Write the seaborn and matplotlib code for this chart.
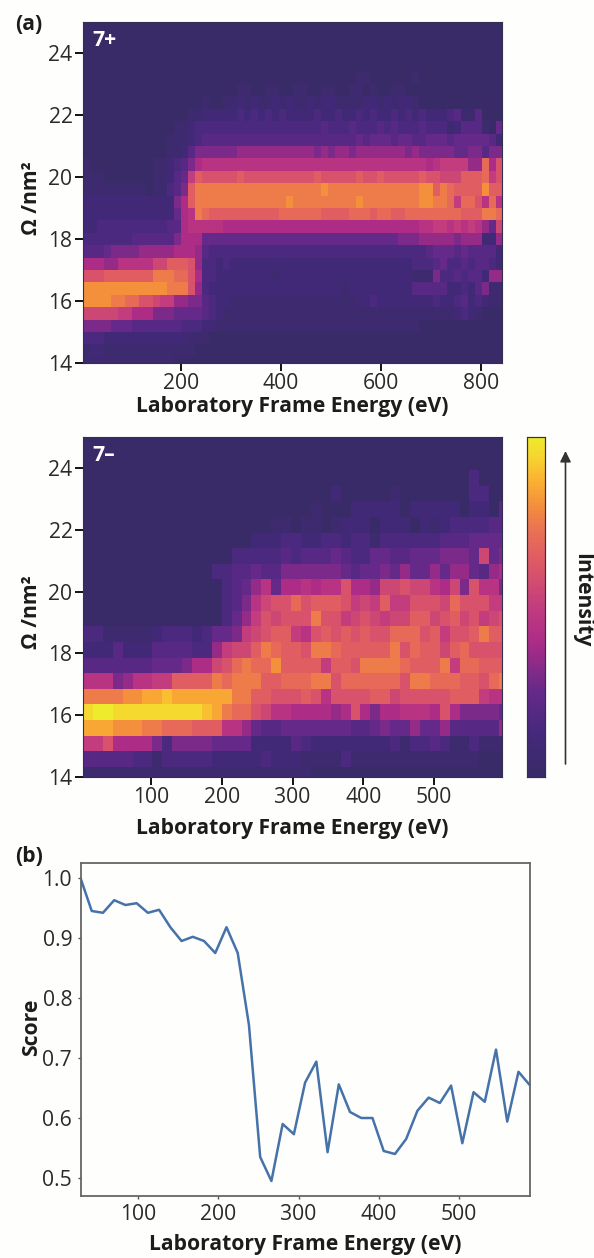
import numpy as np
import seaborn as sns
import matplotlib
matplotlib.use("Agg")
import matplotlib.pyplot as plt
from matplotlib.colors import LinearSegmentedColormap
from matplotlib.patches import FancyArrowPatch

sns.set_theme(style="white")
plt.rcParams['font.family'] = ['Open Sans', 'DejaVu Sans']

W, H = 594, 1258
FS = 15.2

# Intensity levels: one row per drift bin, bottom row first.
# Each character is a level from 0 (base 36, 0..9, a..k), k being the top of the scale.
levels_7plus = [
 "1111111111 1110000000 0000000000 0000000000 0000000000 0000000000",
 "1221111111 1111110000 0000000000 0000000000 0000000000 0000000000",
 "3332222222 2222211100 0000000000 0000000000 0000000000 0000000000",
 "6666555444 4444333221 1111111111 1111111111 1111111100 0000000000",
 "bbbbbaa888 6665555432 1111111111 1111111111 1111111111 1112321000",
 "ggggffeecc baa7766432 2111111111 1111111112 2322222222 3223423211",
 "gggggggggg ggfffc7322 2222222222 2222222122 2222222444 4422324611",
 "cccddddddd fffeec8332 2222222122 2222222222 2222222111 6334344277",
 "8887799999 bbdddc7332 3222222222 2222222222 2222222333 4533434432",
 "4445666677 7778887433 3333333333 3333333333 3333333334 5554544442",
 "3333333444 4446888555 5555555555 5555555555 5555566677 7776777227",
 "2233333333 3344899999 8888888888 8888888888 8888888899 aa9a9a975b",
 "2222222222 222589fedd ddddddddee eeeeddddee edeeddeeee eeeedddffe",
 "2222222222 22268dffff fffffffffg fffffffffg ffffffffgg ffeaeec9e9",
 "1111111110 11346dffff ffffffffff ffffgfffff ffffffffgg dfeddddgdd",
 "1110000000 11245adccc ccdccccccc cccdcccccd ccdcccccdc cbbbdddeac",
 "1000000000 1123468999 9999999999 9999999999 9999999998 9aaaa77e8c",
 "0000000000 0011246666 6677777777 7776767767 7777776766 6665566466",
 "0000000000 0011123444 4444444444 4444444445 4555455445 5545555542",
 "0000000000 0001123333 3333333333 3333433343 3343433343 3312444105",
 "0000000000 0000011222 2232323232 2223223223 2322323232 2234114000",
 "0000000000 0000000100 1121211212 1121221111 2212122100 0000000000",
 "0000000000 0000000000 0011001100 1100110011 0100110000 0000000000",
 "0000000000 0000000000 0000000000 0000000001 1000000100 0000000000",
 "0000000000 0000000000 0000000000 0000000000 0000000000 0000000000",
 "0000000000 0000000000 0000000000 0000000000 0000000000 0000000000",
 "0000000000 0000000000 0000000000 0000000000 0000000000 0000000000",
 "0000000000 0000000000 0000000000 0000000000 0000000000 0000000000",
]
levels_7minus = [
 "1111111111 1111111111 1110000000 0000000000 000",
 "4444433133 3332222232 2211113111 1111111111 000",
 "aac8888636 6665555222 2432222222 2313343113 111",
 "hhhgggffee eddd997544 5555555445 6557557444 447",
 "jkkjjjjjjj jjihfeecb9 9888878c86 889998c866 665",
 "ffffgghhih hhhhhffddc ccdc9ccccd dbcccccddd a99",
 "9996799aad dddfefffdd eeeffceeee eecffeeedd cef",
 "4444444555 688bcefeeg ddddaddcff ffedddfaee ddd",
 "2224222444 4337abbdfe ddcffedddd dfceddbdec ccc",
 "3311111233 323556abcd da9cdcdcdc ceeecdaccd fdd",
 "0000000000 0000357acb cccfccabcb abbddbcdbc abc",
 "0000000000 00003469bc cecdddcaba daacccbecc caa",
 "0000000000 0000345795 889899c887 bbcbb98b6c 996",
 "0000000000 0003344544 6666665455 6575575775 478",
 "0000000000 0000033333 4344454335 5445556665 b56",
 "0000000000 0000000222 3322332331 3333334445 555",
 "0000000000 0000000001 1011012220 2220212333 344",
 "0000000000 0000000000 0001000222 2202222202 204",
 "0000000000 0000000000 0000020000 0100000003 300",
 "0000000000 0000000000 0000000000 0000000003 000",
 "0000000000 0000000000 0000000000 0000000000 000",
 "0000000000 0000000000 0000000000 0000000000 000",
 "0000000000 0000000000 0000000000 0000000000 000",
]

score_energy = [28 + 14 * i for i in range(41)]
score_values = [1.000, 0.945, 0.942, 0.963, 0.955, 0.958, 0.942, 0.947, 0.918, 0.895,
                0.902, 0.895, 0.875, 0.918, 0.875, 0.755, 0.535, 0.495, 0.590, 0.573,
                0.659, 0.694, 0.543, 0.656, 0.610, 0.600, 0.600, 0.545, 0.540, 0.565,
                0.612, 0.634, 0.625, 0.654, 0.558, 0.643, 0.627, 0.714, 0.594, 0.677,
                0.655]

x_ticks_top = [200, 400, 600, 800]
x_ticks_mid = [100, 200, 300, 400, 500]
x_ticks_bot = [100, 200, 300, 400, 500]
y_ticks_map = [14, 16, 18, 20, 22, 24]
y_ticks_score = [0.5, 0.6, 0.7, 0.8, 0.9, 1.0]

XLABEL = "Laboratory Frame Energy (eV)"
YLABEL = "Ω /nm²"
INK = "#1c1c1c"
YLABEL_X = 42

cmap = LinearSegmentedColormap.from_list("intensity", [
    (0.00, "#392a68"), (0.12, "#44297a"), (0.25, "#65298a"), (0.40, "#ad2c86"),
    (0.50, "#c23c7e"), (0.62, "#dc5668"), (0.72, "#e96f55"), (0.80, "#f48f3c"),
    (0.87, "#fab032"), (0.95, "#f6d82e"), (1.00, "#eeea2c")])


def decode(rows):
    return np.array([[int(c, 36) for c in r.replace(" ", "")] for r in rows], float)


def box(l, t, r, b):
    return [l / W, 1 - b / H, (r - l) / W, (b - t) / H]


fig = plt.figure(figsize=(W / 100, H / 100), dpi=100, facecolor="#fefefd")


def heat(pos, rows, e0, de, em, w0, dw, xt, tag, lpad, ypix, cbar_ax=None):
    ax = fig.add_axes(box(*pos))
    sns.heatmap(decode(rows), ax=ax, cmap=cmap, vmin=0, vmax=20, cbar=cbar_ax is not None,
                cbar_ax=cbar_ax, xticklabels=False, yticklabels=False, rasterized=True)
    ax.set_xlim(0, (em - e0) / de)
    ax.set_ylim((14 - w0) / dw, (25 - w0) / dw)
    ax.set_xticks([(v - e0) / de for v in xt], [str(v) for v in xt])
    ax.set_yticks([(v - w0) / dw for v in y_ticks_map], [str(v) for v in y_ticks_map])
    ax.tick_params(left=True, bottom=True, length=5.5, width=1.4, color="#111111",
                   labelsize=FS, labelcolor="#2a2a2a", pad=2, rotation=0)
    for s in ax.spines.values():
        s.set_visible(True)
        s.set_color("#33304f")
        s.set_linewidth(0.8)
    ax.set_xlabel(XLABEL, fontsize=FS, fontweight="bold", color=INK, labelpad=lpad)
    ax.set_ylabel(YLABEL, fontsize=FS, fontweight="bold", color=INK)
    ax.yaxis.set_label_coords((YLABEL_X - pos[0]) / (pos[2] - pos[0]), (pos[3] - ypix) / (pos[3] - pos[1]))
    ax.text(0.022, 0.945, tag, transform=ax.transAxes, color="white", fontsize=FS,
            fontweight="bold", va="center", ha="left")
    return ax


heat((83, 22, 502, 363), levels_7plus, 4, 14, 842, 13.8, 0.4, x_ticks_top, "7+", 1, 198)

cax = fig.add_axes(box(527, 437, 545, 777))
heat((83, 437, 502, 777), levels_7minus, 4, 14, 596, 13.825, 0.505, x_ticks_mid, "7–", 7, 612,
     cbar_ax=cax)
cax.set_yticks([])
cax.tick_params(left=False, right=False, length=0)
for s in cax.spines.values():
    s.set_visible(True)
    s.set_color("#33304f")
    s.set_linewidth(0.8)

fig.add_artist(FancyArrowPatch((565.5 / W, 1 - 764 / H), (565.5 / W, 1 - 451 / H),
                               transform=fig.transFigure, arrowstyle="-|>", mutation_scale=16,
                               lw=1.2, color="#333333", shrinkA=0, shrinkB=0))
fig.text(582 / W, 1 - 600 / H, "Intensity", rotation=-90, ha="center", va="center",
         fontsize=FS, fontweight="bold", color=INK)

ax3 = fig.add_axes(box(80.5, 862.7, 529.7, 1196))
sns.lineplot(x=score_energy, y=score_values, ax=ax3, color="#4672aa", lw=1.8, errorbar=None)
ax3.set_xlim(28, 588)
ax3.set_ylim(0.47, 1.0255)
ax3.set_facecolor("#fefefd")
ax3.set_xticks(x_ticks_bot, [str(v) for v in x_ticks_bot])
ax3.set_yticks(y_ticks_score, [f"{v:.1f}" for v in y_ticks_score])
ax3.tick_params(left=True, bottom=True, length=2.5, width=1, color="#555555", labelsize=FS,
                labelcolor="#2a2a2a", pad=3.5)
for s in ax3.spines.values():
    s.set_visible(True)
    s.set_color("#666666")
    s.set_linewidth(1.3)
ax3.set_xlabel(XLABEL, fontsize=FS, fontweight="bold", color=INK, labelpad=6)
ax3.set_ylabel("Score", fontsize=FS, fontweight="bold", color=INK)
ax3.yaxis.set_label_coords((YLABEL_X - 80.5) / 449.2, (1196 - 1027) / 333.3)

fig.text(15 / W, 1 - 25 / H, "(a)", fontsize=FS, fontweight="bold", color=INK, va="center")
fig.text(15 / W, 1 - 857 / H, "(b)", fontsize=FS, fontweight="bold", color=INK, va="center")

fig.savefig("out.png", dpi=100, facecolor=fig.get_facecolor())
